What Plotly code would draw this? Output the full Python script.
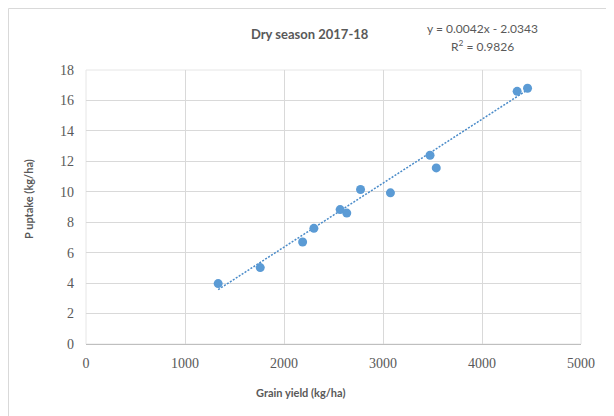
import numpy as np
import plotly.graph_objects as go

# Data
grain_yield = [1335, 1760, 2188, 2302, 2567, 2634, 2773, 3075, 3475, 3538, 4355, 4460]
p_uptake = [3.97, 5.02, 6.70, 7.60, 8.83, 8.60, 10.15, 9.93, 12.40, 11.57, 16.60, 16.80]
trend_slope = 0.0042
trend_intercept = -2.0343
x_ticks = [0, 1000, 2000, 3000, 4000, 5000]
y_ticks = [0, 2, 4, 6, 8, 10, 12, 14, 16, 18]

OFF = 8  # page body margin
W, H = 614, 416
L, T = 86 - OFF, 70 - OFF
PW, PH = 495, 274
R, B = W - L - PW, H - T - PH

def px(xs):
    return (xs - OFF - L) / PW

def py(ys):
    return (T + PH + OFF - ys) / PH

fig = go.Figure()

tx = np.array([min(grain_yield), max(grain_yield)])
fig.add_trace(go.Scatter(
    x=tx, y=trend_slope * tx + trend_intercept, mode="lines",
    line=dict(color="#4A8BC9", width=1.5, dash="2px,1.5px"),
    hoverinfo="skip", showlegend=False))

fig.add_trace(go.Scatter(
    x=grain_yield, y=p_uptake, mode="markers",
    marker=dict(color="#5B9BD5", size=9, line=dict(width=0)),
    showlegend=False))

serif = "Liberation Serif"
sans = "Lato"
gray = "#595959"

fig.update_layout(
    width=W, height=H,
    margin=dict(l=L, r=R, t=T, b=B),
    paper_bgcolor="white", plot_bgcolor="white",
    xaxis=dict(range=[0, 5000], tickvals=x_ticks, ticktext=[str(v) for v in x_ticks],
               showgrid=True, gridcolor="#D9D9D9", gridwidth=1,
               zeroline=False, showline=True, linecolor="#BFBFBF", linewidth=1,
               mirror=False, ticks="", ticklen=0, ticklabelstandoff=6,
               tickfont=dict(family=serif, size=14, color=gray)),
    yaxis=dict(range=[0, 18], tickvals=y_ticks, ticktext=[str(v) for v in y_ticks],
               showgrid=True, gridcolor="#D9D9D9", gridwidth=1,
               zeroline=False, showline=False, ticks="", ticklen=0, ticklabelstandoff=11,
               tickfont=dict(family=serif, size=14, color=gray)),
    font=dict(family=sans, color=gray),
    annotations=[
        dict(text="<b>Dry season 2017-18</b>", x=px(310), y=py(34), xref="paper", yref="paper",
             showarrow=False, xanchor="center", yanchor="middle",
             font=dict(family=sans, size=13, color=gray)),
        dict(text="y = 0.0042x - 2.0343", x=px(482), y=py(28), xref="paper", yref="paper",
             showarrow=False, xanchor="center", yanchor="middle",
             font=dict(family=sans, size=12, color=gray)),
        dict(text="R<sup>2</sup> = 0.9826", x=px(482), y=py(46), xref="paper", yref="paper",
             showarrow=False, xanchor="center", yanchor="middle",
             font=dict(family=sans, size=12, color=gray)),
        dict(text="<b>Grain yield (kg/ha)</b>", x=px(300), y=py(392), xref="paper", yref="paper",
             showarrow=False, xanchor="center", yanchor="middle",
             font=dict(family=sans, size=11, color=gray)),
        dict(text="<b>P uptake (kg/ha)</b>", x=px(28), y=py(199), xref="paper", yref="paper",
             showarrow=False, xanchor="center", yanchor="middle", textangle=-90,
             font=dict(family=sans, size=11, color=gray)),
    ],
    shapes=[
        dict(type="rect", xref="paper", yref="paper", x0=0, x1=1, y0=0, y1=1,
             line=dict(color="#E6E6E6", width=1), layer="below"),
        dict(type="rect", xref="paper", yref="paper", x0=px(8.5), x1=px(660), y0=py(460), y1=py(8.5),
             line=dict(color="#D9D9D9", width=1), layer="below"),
        dict(type="path", xref="paper", yref="paper",
             path=f"M {px(440)} {py(0)} L {px(462)} {py(0)} L {px(482)} {py(8)} L {px(460)} {py(8)} Z",
             fillcolor="#E3E3E3", line=dict(width=0), layer="below"),
        dict(type="path", xref="paper", yref="paper",
             path=f"M {px(497)} {py(0)} L {px(517)} {py(0)} L {px(537)} {py(8)} L {px(517)} {py(8)} Z",
             fillcolor="#E3E3E3", line=dict(width=0), layer="below"),
        dict(type="path", xref="paper", yref="paper",
             path=f"M {px(567)} {py(0)} L {px(585)} {py(0)} L {px(600)} {py(8)} L {px(583)} {py(8)} Z",
             fillcolor="#E3E3E3", line=dict(width=0), layer="below"),
    ],
)

fig.write_html("out.html")
